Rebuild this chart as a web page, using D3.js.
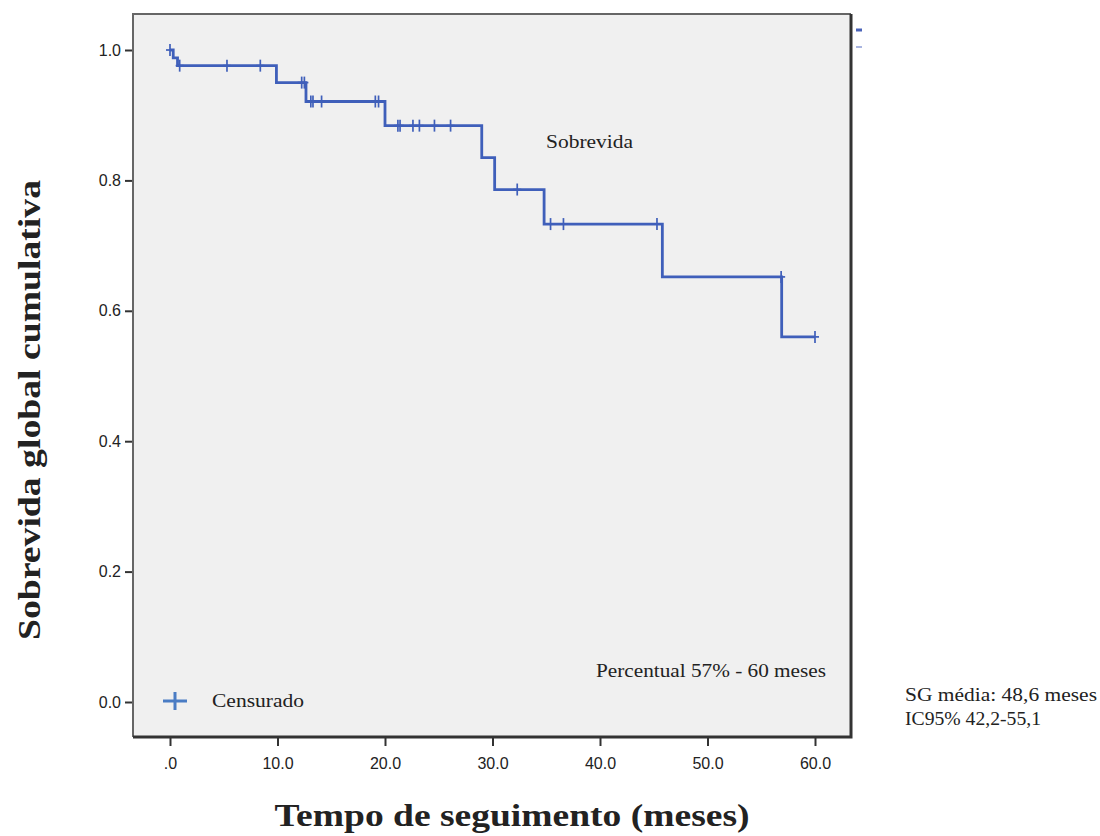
<!DOCTYPE html>
<html lang="pt">
<head>
<meta charset="UTF-8">
<title>Sobrevida global cumulativa</title>
<script src="https://d3js.org/d3.v7.min.js"></script>
<style>
    body { margin: 0; background: #ffffff; }
    .tick text { font-family: "Liberation Sans", Arial, sans-serif; font-size: 16px; fill: #222; }
    .serif { font-family: "Liberation Serif", "Times New Roman", serif; fill: #222; }
</style>
</head>
<body>
<div id="chart"></div>
<script>
    // Kaplan-Meier: tempos de evento e sobrevida logo após cada evento
    const eventTimes = [0, 0.3, 0.7, 9.9, 12.65, 20.0, 29.0, 30.2, 34.8, 45.8, 56.9];
    const survival   = [1.0, 0.988, 0.976, 0.950, 0.921, 0.884, 0.835, 0.786, 0.733, 0.652, 0.560];
    const endTime = 60.0;
    // tempos censurados
    const censorTimes = [0.0, 0.9, 5.3, 8.4, 12.25, 12.5, 13.1, 13.3, 14.1, 19.1, 19.4,
        21.2, 21.4, 22.6, 23.2, 24.6, 26.1, 32.3, 35.4, 36.6, 45.3, 56.85, 60.0];
    const xTicks = [0, 10, 20, 30, 40, 50, 60];
    const yTicks = [0, 0.2, 0.4, 0.6, 0.8, 1.0];

    const W = 1100, H = 836;
    const frame = { left: 133, top: 14, right: 851, bottom: 737 };
    const lineColor = "#3f5fba";

    const svg = d3.select("#chart").append("svg")
        .attr("width", W).attr("height", H);

    const x = d3.scaleLinear().domain([0, 60]).range([170, 815]);
    const y = d3.scaleLinear().domain([0, 1]).range([702, 50]);

    // fundo da área do gráfico
    svg.append("rect")
        .attr("x", frame.left).attr("y", frame.top)
        .attr("width", frame.right - frame.left).attr("height", frame.bottom - frame.top)
        .attr("fill", "#f0f0f0");

    // curva em degraus
    const pts = [];
    eventTimes.forEach((t, i) => {
        if (i > 0) pts.push([t, survival[i - 1]]);
        pts.push([t, survival[i]]);
    });
    pts.push([endTime, survival[survival.length - 1]]);

    svg.append("path")
        .datum(pts)
        .attr("fill", "none")
        .attr("stroke", lineColor)
        .attr("stroke-width", 2.8)
        .attr("d", d3.line().x(d => x(d[0])).y(d => y(d[1])));

    // marcas de censura
    function survAt(t) {
        let s = 1;
        eventTimes.forEach((e, i) => { if (e <= t) s = survival[i]; });
        return s;
    }
    const marks = svg.append("g").attr("stroke", lineColor).attr("stroke-width", 1.7);
    censorTimes.forEach(t => {
        const cx = x(t), cy = y(survAt(t));
        marks.append("line").attr("x1", cx).attr("x2", cx).attr("y1", cy - 6).attr("y2", cy + 6);
        marks.append("line").attr("x1", cx - 4).attr("x2", cx + 4).attr("y1", cy).attr("y2", cy);
    });

    // eixos
    const yAxis = svg.append("g")
        .attr("transform", `translate(${frame.left},0)`)
        .call(d3.axisLeft(y).tickValues(yTicks).tickSize(8).tickPadding(4).tickFormat(d3.format(".1f")));
    yAxis.select(".domain").remove();
    yAxis.selectAll(".tick line").attr("stroke", "#333").attr("stroke-width", 2);

    const xAxis = svg.append("g")
        .attr("transform", `translate(0,${frame.bottom})`)
        .call(d3.axisBottom(x).tickValues(xTicks).tickSize(9).tickPadding(12)
            .tickFormat(d => d === 0 ? ".0" : d3.format(".1f")(d)));
    xAxis.select(".domain").remove();
    xAxis.selectAll(".tick line").attr("stroke", "#333").attr("stroke-width", 2);

    // moldura
    svg.append("path")
        .attr("d", `M${frame.left},${frame.bottom}V${frame.top}H${frame.right}`)
        .attr("fill", "none").attr("stroke", "#666").attr("stroke-width", 2);
    svg.append("path")
        .attr("d", `M${frame.left},${frame.bottom}H${frame.right}V${frame.top}`)
        .attr("fill", "none").attr("stroke", "#333").attr("stroke-width", 3);

    // legenda cortada no canto superior direito
    svg.append("line").attr("x1", 856).attr("x2", 862).attr("y1", 30).attr("y2", 30)
        .attr("stroke", "#4a63b8").attr("stroke-width", 3);
    svg.append("line").attr("x1", 856).attr("x2", 862).attr("y1", 47).attr("y2", 47)
        .attr("stroke", "#a9b5e0").attr("stroke-width", 2);

    // legenda "Censurado"
    const lg = svg.append("g").attr("stroke", "#4a7cc4").attr("stroke-width", 3);
    lg.append("line").attr("x1", 163).attr("x2", 187).attr("y1", 701).attr("y2", 701);
    lg.append("line").attr("x1", 175).attr("x2", 175).attr("y1", 692).attr("y2", 710);

    function label(txt, xp, yp, size, len, anchor) {
        return svg.append("text").attr("class", "serif")
            .attr("x", xp).attr("y", yp).attr("font-size", size)
            .attr("text-anchor", anchor || "start")
            .attr("textLength", len).attr("lengthAdjust", "spacingAndGlyphs")
            .text(txt);
    }
    label("Censurado", 212, 707, 19, 92);
    label("Sobrevida", 546, 148, 19, 87);
    label("Percentual 57% - 60 meses", 596, 677, 19, 230);
    label("SG média: 48,6 meses", 905, 701, 19, 192);
    label("IC95% 42,2-55,1", 905, 725, 19, 136);

    // títulos dos eixos
    svg.append("text").attr("class", "serif")
        .attr("transform", "translate(40,410) rotate(-90)")
        .attr("text-anchor", "middle").attr("font-size", 32).attr("font-weight", "bold")
        .attr("textLength", 460).attr("lengthAdjust", "spacingAndGlyphs")
        .text("Sobrevida global cumulativa");
    svg.append("text").attr("class", "serif")
        .attr("x", 512).attr("y", 826)
        .attr("text-anchor", "middle").attr("font-size", 31).attr("font-weight", "bold")
        .attr("textLength", 475).attr("lengthAdjust", "spacingAndGlyphs")
        .text("Tempo de seguimento (meses)");
</script>
</body>
</html>
